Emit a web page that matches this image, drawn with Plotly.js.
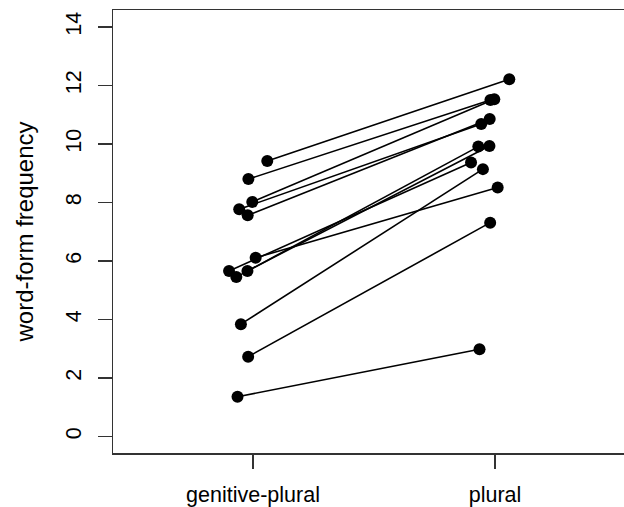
<!DOCTYPE html>
<html>
<head>
<meta charset="utf-8">
<script src="https://cdn.plot.ly/plotly-3.0.1.min.js"></script>
<style>html,body{margin:0;padding:0;background:#fff;}#chart{width:624px;height:507px;}</style>
</head>
<body>
<div id="chart"></div>
<script>
// Conditions (x-axis categories) and tick labels
const conditions = ["genitive-plural", "plural"];
const conditionPos = [1, 2];
// Per-word horizontal jitter (shared by both conditions)
const jitter = [0.059, -0.019, -0.003, -0.057, -0.022, 0.011, -0.099, -0.069, -0.023, -0.050, -0.020, -0.064];
// Word-form frequencies
const genitivePlural = [9.42, 8.80, 8.02, 7.77, 7.56, 6.11, 5.66, 5.45, 5.66, 3.84, 2.73, 1.36];
const plural = [12.21, 11.50, 11.53, 10.68, 10.85, 8.51, 9.37, 9.91, 9.93, 9.14, 7.31, 2.98];
const yTicks = [0, 2, 4, 6, 8, 10, 12, 14];

const traces = genitivePlural.map((g, i) => ({
  x: [conditionPos[0] + jitter[i], conditionPos[1] + jitter[i]],
  y: [g, plural[i]],
  mode: "lines+markers",
  type: "scatter",
  line: {color: "#000", width: 1.6},
  marker: {color: "#000", size: 12},
  hoverinfo: "skip",
  showlegend: false
}));

const fontFam = "Liberation Sans, Arial, Helvetica, sans-serif";
const layout = {
  width: 624, height: 507,
  margin: {l: 113, r: 0, t: 10, b: 54},
  paper_bgcolor: "#fff", plot_bgcolor: "#fff",
  font: {family: fontFam, size: 21.5, color: "#000"},
  showlegend: false,
  xaxis: {
    range: [0.4215, 2.533],
    tickvals: conditionPos,
    ticktext: conditions,
    ticks: "outside", ticklen: 14, tickwidth: 1.2, tickcolor: "#333",
    showline: true, linecolor: "#333", linewidth: 1.5, mirror: true,
    showgrid: false, zeroline: false,
    tickfont: {family: fontFam, size: 21.5, color: "#000"},
    ticklabelstandoff: 8
  },
  yaxis: {
    range: [-0.564, 14.58],
    tickvals: yTicks,
    ticks: "outside", ticklen: 14, tickwidth: 1.2, tickcolor: "#333",
    tickangle: -90,
    showline: true, linecolor: "#333", linewidth: 1.5, mirror: false,
    showgrid: false, zeroline: false,
    tickfont: {family: fontFam, size: 21.5, color: "#000"},
    ticklabelstandoff: 8,
    title: {text: "word-form frequency", font: {family: fontFam, size: 24, color: "#000"}, standoff: 21}
  }
};

Plotly.newPlot("chart", traces, layout, {displayModeBar: false, staticPlot: true});
</script>
</body>
</html>
